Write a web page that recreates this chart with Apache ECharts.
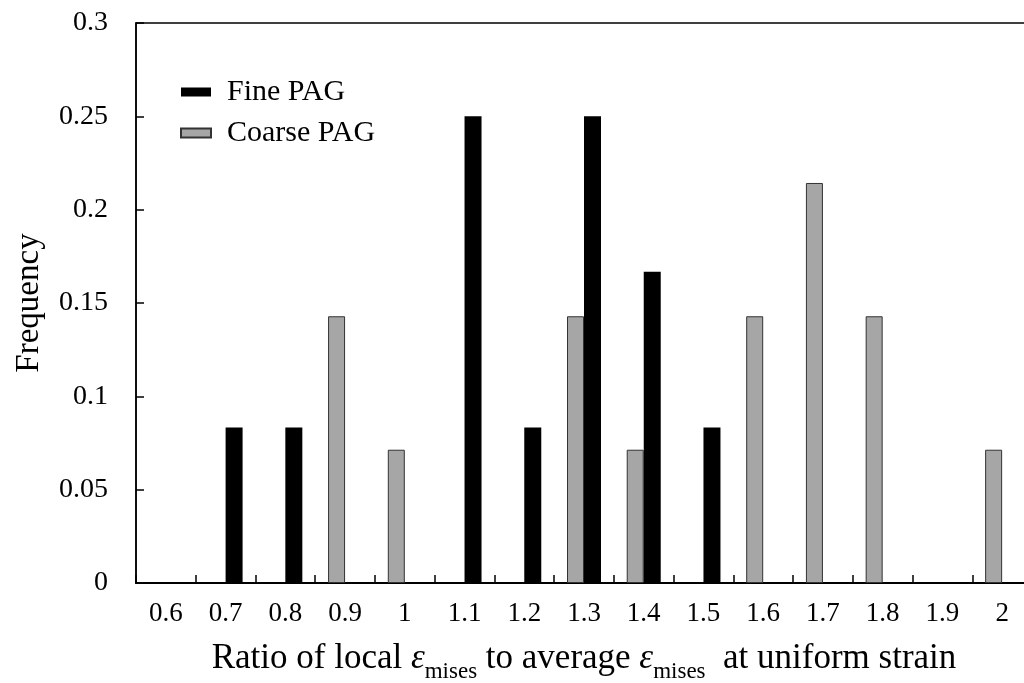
<!DOCTYPE html>
<html>
<head>
<meta charset="utf-8">
<script src="https://cdn.jsdelivr.net/npm/echarts@6/dist/echarts.min.js"></script>
<style>
html,body{margin:0;padding:0;background:#fff;overflow:hidden;}
#chart{width:1024px;height:683px;}
</style>
</head>
<body>
<div id="chart"></div>
<script>
const categories = ['0.6','0.7','0.8','0.9','1','1.1','1.2','1.3','1.4','1.5','1.6','1.7','1.8','1.9','2'];
const finePAG   = [0, 0.0833, 0.0833, 0, 0, 0.25, 0.0833, 0.25, 0.1667, 0.0833, 0, 0, 0, 0, 0];
const coarsePAG = [0, 0, 0, 0.1429, 0.0714, 0, 0, 0.1429, 0.0714, 0, 0.1429, 0.2143, 0.1429, 0, 0.0714];
const yTicks = [0, 0.05, 0.1, 0.15, 0.2, 0.25, 0.3];

const serif = '"Liberation Serif", "Times New Roman", serif';
const toItems = arr => arr.map(v => v === 0 ? { value: v, itemStyle: { borderWidth: 0 } } : v);

const chart = echarts.init(document.getElementById('chart'));
chart.setOption({
  animation: false,
  backgroundColor: '#fff',
  grid: { left: 136, right: -8, top: 23, bottom: 100, show: true, borderColor: '#000', borderWidth: 1.5,
          containLabel: false, outerBoundsMode: 'none' },
  legend: {
    orient: 'vertical', left: 180, top: 77, padding: 0,
    itemWidth: 30, itemHeight: 9, itemGap: 11,
    icon: 'rect',
    data: ['Fine PAG', 'Coarse PAG'],
    textStyle: { fontFamily: serif, fontSize: 30, color: '#000', padding: [0, 0, 0, 11] }
  },
  xAxis: {
    type: 'category', data: categories,
    axisLine: { lineStyle: { color: '#000', width: 2 } },
    axisTick: { show: true, inside: true, length: 8, interval: 0, lineStyle: { color: '#000', width: 1.5 } },
    axisLabel: { interval: 0, margin: 17, fontFamily: serif, fontSize: 27, color: '#000' },
    name: 'Ratio of local {e|ε}{s|mises} to average {e|ε}{s|mises}  at uniform strain',
    nameLocation: 'middle', nameGap: 51,
    nameTextStyle: {
      fontFamily: serif, fontSize: 35, color: '#000',
      rich: {
        e: { fontFamily: serif, fontSize: 35, fontStyle: 'italic', color: '#000' },
        s: { fontFamily: serif, fontSize: 23, color: '#000', padding: [26, 0, 0, 0] }
      }
    }
  },
  yAxis: {
    type: 'value', min: yTicks[0], max: yTicks[yTicks.length - 1], interval: 0.05,
    splitLine: { show: false },
    axisLine: { show: true, lineStyle: { color: '#000', width: 1.5 } },
    axisTick: { show: true, inside: true, length: 8, lineStyle: { color: '#000', width: 1.5 } },
    axisLabel: { margin: 28, fontFamily: serif, fontSize: 28, color: '#000', formatter: v => String(+v.toFixed(2)) },
    name: 'Frequency', nameLocation: 'middle', nameGap: 90,
    nameTextStyle: { fontFamily: serif, fontSize: 33, color: '#000' }
  },
  series: [
    {
      name: 'Coarse PAG', type: 'bar', data: toItems(coarsePAG), barWidth: 17, barGap: '0%',
      itemStyle: { color: '#a6a6a6', borderColor: '#333', borderWidth: 1 }
    },
    {
      name: 'Fine PAG', type: 'bar', data: toItems(finePAG), barWidth: 17, barGap: '0%',
      itemStyle: { color: '#000' }
    }
  ]
});
</script>
</body>
</html>
